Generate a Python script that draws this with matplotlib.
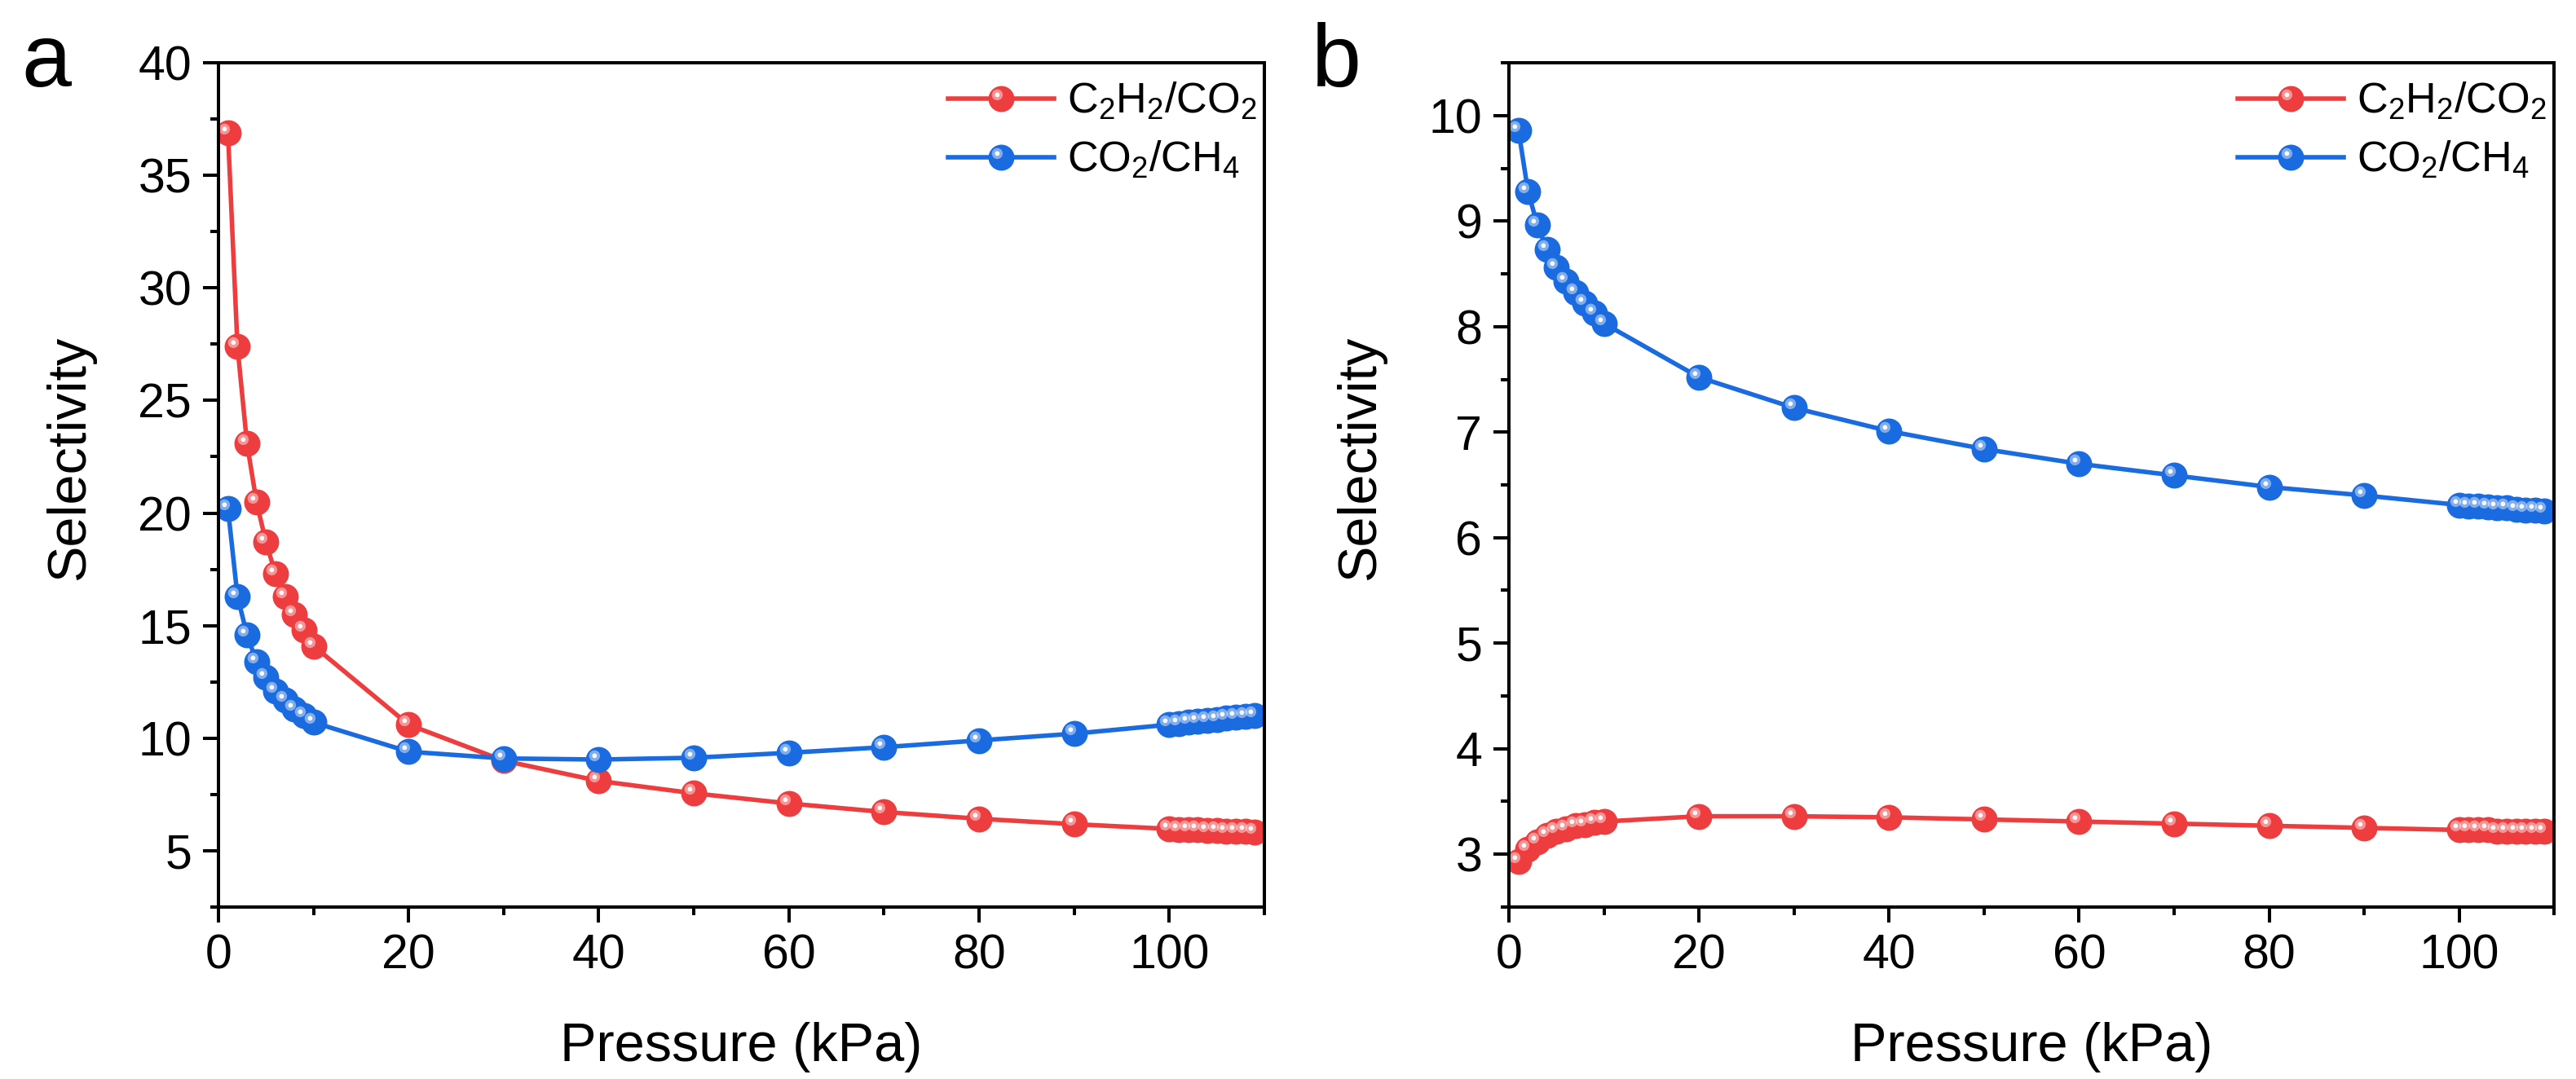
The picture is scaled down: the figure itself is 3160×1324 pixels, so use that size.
import matplotlib
matplotlib.use("Agg")
import matplotlib.pyplot as plt
from matplotlib.path import Path
from matplotlib.ticker import MultipleLocator
from matplotlib.legend_handler import HandlerTuple

plt.rcParams['font.family'] = ['Liberation Sans', 'DejaVu Sans']
plt.rcParams['mathtext.default'] = 'regular'

# pressure points (kPa)
pressure = [1, 2, 3, 4, 5, 6, 7, 8, 9, 10,
            20, 30, 40, 50, 60, 70, 80, 90,
            100, 101, 102, 103, 104, 105, 106, 107, 108, 109]

# panel a
a_c2h2_co2 = [36.9, 27.4, 23.1, 20.5, 18.7, 17.3, 16.3, 15.5, 14.8, 14.1,
              10.6, 9.0, 8.1, 7.55, 7.1, 6.72, 6.42, 6.18,
              5.97, 5.95, 5.93, 5.92, 5.90, 5.89, 5.88, 5.86, 5.85, 5.84]
a_co2_ch4 = [20.2, 16.3, 14.6, 13.4, 12.7, 12.1, 11.7, 11.3, 11.0, 10.7,
             9.4, 9.1, 9.05, 9.13, 9.35, 9.6, 9.9, 10.2,
             10.6, 10.65, 10.7, 10.75, 10.8, 10.84, 10.88, 10.92, 10.96, 11.0]

# panel b
b_c2h2_co2 = [2.93, 3.05, 3.12, 3.18, 3.22, 3.24, 3.27, 3.28, 3.30, 3.31,
              3.36, 3.36, 3.35, 3.33, 3.31, 3.29, 3.27, 3.25,
              3.23, 3.23, 3.23, 3.23, 3.22, 3.22, 3.22, 3.22, 3.22, 3.22]
b_co2_ch4 = [9.86, 9.28, 8.96, 8.73, 8.56, 8.43, 8.32, 8.22, 8.13, 8.03,
             7.52, 7.23, 7.01, 6.84, 6.70, 6.59, 6.48, 6.40,
             6.31, 6.30, 6.30, 6.29, 6.28, 6.28, 6.27, 6.26, 6.26, 6.25]

labels = [r'C$_2$H$_2$/CO$_2$', r'CO$_2$/CH$_4$']
red = '#EE3D3F'
blue = '#1B6BE0'

MS = 23  # marker size in points


def spot(cx, cy, r):
    # small circle inside the marker box, corners keep the scale fixed
    corners = Path([(-0.5, -0.5), (0.5, 0.5)], [Path.MOVETO, Path.MOVETO])
    return Path.make_compound_path(corners, Path.circle((cx, cy), r))


glow = spot(-0.16, 0.16, 0.21)
shine = spot(-0.16, 0.16, 0.09)


def ball_plot(ax, x, y, color, label):
    base, = ax.plot(x, y, '-o', color=color, lw=4.0, ms=MS, mfc=color,
                    mec=color, mew=0, label=label)
    g, = ax.plot(x, y, ls='none', marker=glow, ms=MS, mfc='white',
                 mew=0, alpha=0.45)
    s, = ax.plot(x, y, ls='none', marker=shine, ms=MS, mfc='white',
                 mew=0, alpha=0.95)
    return (base, g, s)


def style(ax, ylim, ymaj, ymin):
    ax.set_xlim(0, 110)
    ax.set_ylim(*ylim)
    ax.xaxis.set_major_locator(MultipleLocator(20))
    ax.xaxis.set_minor_locator(MultipleLocator(10))
    ax.yaxis.set_major_locator(MultipleLocator(ymaj))
    ax.yaxis.set_minor_locator(MultipleLocator(ymin))
    ax.tick_params(which='both', direction='out', width=2.9,
                   labelsize=42.5, pad=10)
    ax.tick_params(which='major', length=13.7)
    ax.tick_params(which='minor', length=7.2)
    for sp in ax.spines.values():
        sp.set_linewidth(2.9)
    ax.set_xlabel('Pressure (kPa)', fontsize=48)
    ax.set_ylabel('Selectivity', fontsize=48)
    ax.xaxis.set_label_coords(0.5, -0.136)
    ax.yaxis.set_label_coords(-0.118, 0.532)


fig = plt.figure(figsize=(31.6, 13.24), dpi=100)
ax1 = fig.add_axes([0.0848, 0.1594, 0.4060, 0.7824])
ax2 = fig.add_axes([0.5858, 0.1594, 0.4057, 0.7824])

for ax, r_vals, b_vals, ylim, ymaj, ymin in [
        (ax1, a_c2h2_co2, a_co2_ch4, (2.5, 40), 5, 2.5),
        (ax2, b_c2h2_co2, b_co2_ch4, (2.5, 10.5), 1, 0.5)]:
    h1 = ball_plot(ax, pressure, r_vals, red, labels[0])
    h2 = ball_plot(ax, pressure, b_vals, blue, labels[1])
    style(ax, ylim, ymaj, ymin)
    ax.legend([h1, h2], labels, handler_map={tuple: HandlerTuple(ndivide=1)},
              loc='upper right', bbox_to_anchor=(0.993, 0.978), frameon=False,
              fontsize=37.5, handlelength=2.5, handletextpad=0.3,
              labelspacing=0.42, borderaxespad=0, borderpad=0, numpoints=1)

fig.text(0.0085, 0.92, 'a', fontsize=79, va='baseline')
fig.text(0.509, 0.92, 'b', fontsize=79, va='baseline')

fig.savefig('out.png', dpi=100)
